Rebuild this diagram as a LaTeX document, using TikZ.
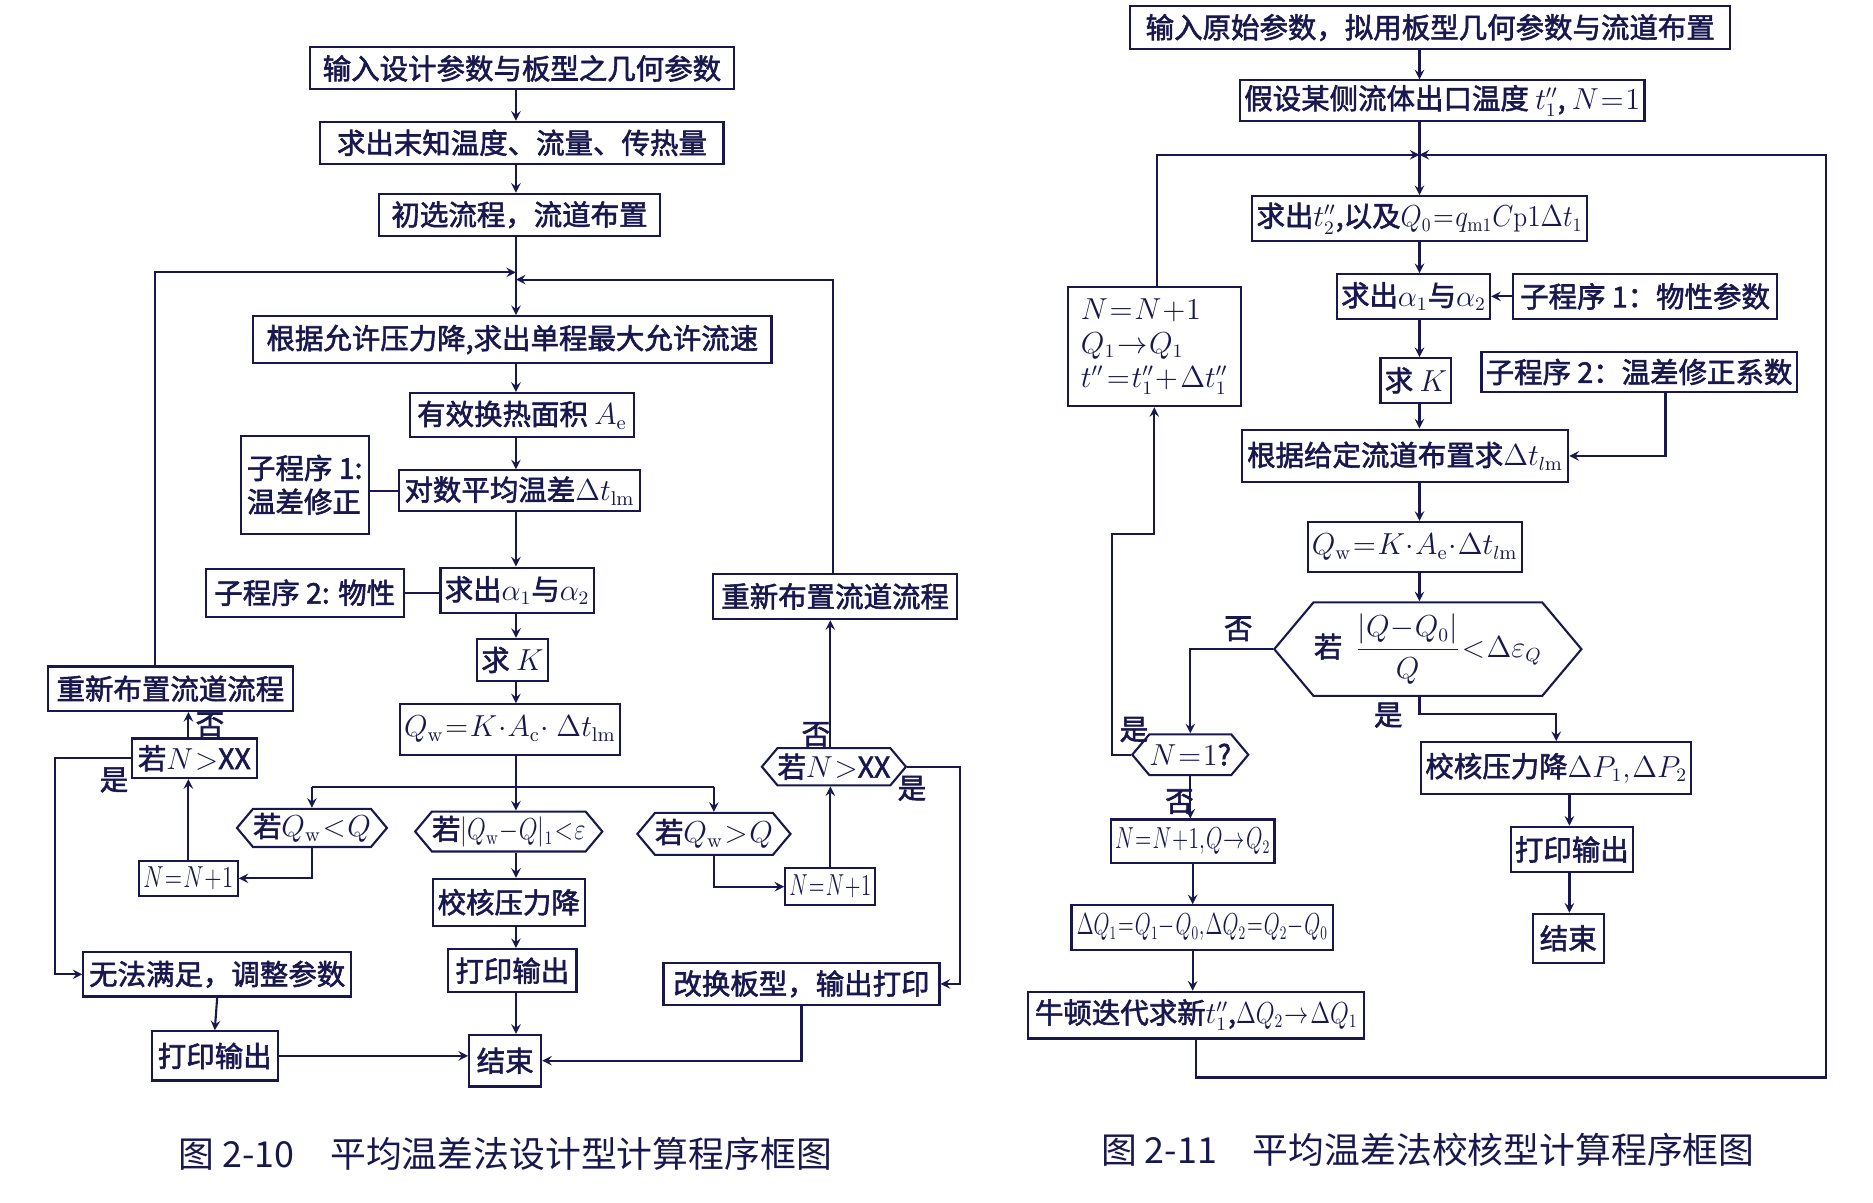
\documentclass[tikz,border=0pt]{standalone}
\usepackage{fontspec}
\usepackage{graphicx}
\usepackage{tikz}
\usetikzlibrary{shapes.symbols, arrows}
\newfontfamily\cjk{Noto Sans CJK SC}
\newfontfamily\cjkb{Noto Sans CJK SC}[FakeBold=2]
\definecolor{ink}{RGB}{24,24,78}
\newcommand\tightmath{\thickmuskip=1mu\medmuskip=0.5mu\thinmuskip=1mu}
\newcommand\squeeze[2]{\scalebox{#1}[1]{#2}}
\tikzstyle{box} = [rectangle, draw=ink, line width=1pt, text=ink, inner sep=2pt, font=\fontsize{13.5}{16}\selectfont\cjkb\tightmath]
\tikzstyle{hexa} = [box, signal, signal to=west and east, signal pointer angle=100, inner xsep=0pt]
\tikzstyle{tag} = [text=ink, inner sep=1pt, font=\fontsize{13.5}{16}\selectfont\cjkb]
\tikzstyle{captext} = [text=ink, font=\fontsize{17}{20}\selectfont\cjk]
\tikzstyle{arrow} = [draw=ink, line width=1pt, ->, >=stealth]
\tikzstyle{wire} = [draw=ink, line width=1pt]
\tikzset{sz/.style 2 args={minimum width=#1*0.02cm, minimum height=#2*0.02cm}}

\begin{document}
\begin{tikzpicture}[x=0.02cm, y=-0.02cm]
\useasboundingbox (0,0) rectangle (1561,1002);

% left chart: design calculation
\coordinate (colL) at (430,0);
\node (inL) [box, sz={354}{35}] at (435,57) {输入设计参数与板型之几何参数};
\node (unk) [box, sz={336}{35}] at (435,119) {求出末知温度、流量、传热量};
\node (lay) [box, sz={234}{35}] at (433,179) {初选流程，流道布置};
\node (vel) [box, sz={432}{39}] at (427,283) {根据允许压力降,求出单程最大允许流速};
\node (area) [box, sz={187}{37}] at (435,346) {有效换热面积 $A_\mathrm{e}$};
\node (sub1) [box, sz={107}{82}, align=left] at (254,404) {子程序 1:\\温差修正};
\node (lmtd) [box, sz={201}{34}] at (433,409) {对数平均温差$\Delta t_\mathrm{lm}$};
\node (sub2) [box, sz={165}{40}] at (254,494) {子程序 2: 物性};
\node (alpha) [box, sz={126}{38}] at (431,492) {求出$\alpha_1$与$\alpha_2$};
\node (kL) [box, sz={59}{35}] at (427,550) {求 $K$};
\node (qwL) [box, sz={177}{42}] at (425,608) {$Q_\mathrm{w}=K\cdot A_\mathrm{c}\cdot\ \Delta t_\mathrm{lm}$};
\node (less) [hexa, sz={115}{29}] at (260,690) {若$Q_\mathrm{w}<Q$};
\node (near) [hexa, sz={156}{32}] at (424,693) {若\squeeze{0.8}{$|Q_\mathrm{w}-Q|_1<\varepsilon$}};
\node (more) [hexa, sz={126}{35}] at (595,695) {若$Q_\mathrm{w}>Q$};
\node (incL) [box, sz={81}{29}] at (157,732) {\squeeze{0.75}{$N=N+1$}};
\node (ifL) [box, sz={104}{33}] at (162,632) {若$N>$XX};
\node (reL) [box, sz={204}{37}] at (142,574) {重新布置流道流程};
\node (fail) [box, sz={223}{37}] at (181,812) {无法满足，调整参数};
\node (prL) [box, sz={105}{41}] at (179,880) {打印输出};
\node (endL) [box, sz={60}{43}] at (421,884) {结束};
\node (chkL) [box, sz={127}{39}] at (424,752) {校核压力降};
\node (prM) [box, sz={107}{36}] at (427,809) {打印输出};
\node (swap) [box, sz={230}{35}] at (668,820) {改换板型，输出打印};
\node (incR) [box, sz={71}{31}] at (692,739) {\squeeze{0.68}{$N=N+1$}};
\node (ifR) [hexa, sz={117}{31}] at (695,639) {若$N>$XX};
\node (reR) [box, sz={203}{38}] at (696,497) {重新布置流道流程};

\draw [arrow] (inL.south -| colL) -- (unk.north -| colL);
\draw [arrow] (unk.south -| colL) -- (lay.north -| colL);
\draw [arrow] (lay.south -| colL) -- (vel.north -| colL);
\coordinate (lpL) at (129,227);
\coordinate (lpR) at (694,233);
\draw [arrow] (reL.north -| lpL) -- (lpL) -- (colL |- lpL);
\draw [arrow] (reR.north -| lpR) -- (lpR) -- (colL |- lpR);
\draw [arrow] (vel.south -| colL) -- (area.north -| colL);
\draw [arrow] (area.south -| colL) -- (lmtd.north -| colL);
\draw [arrow] (lmtd.south -| colL) -- (alpha.north -| colL);
\draw [arrow] (alpha.south -| colL) -- (kL.north -| colL);
\draw [arrow] (kL.south -| colL) -- (qwL.north -| colL);
\draw [wire] (sub1.east |- lmtd) -- (lmtd.west);
\draw [wire] (sub2.east) -- (alpha.west |- sub2);
\draw [arrow] (qwL.south -| colL) -- (near.north -| colL);
\coordinate (brL) at (430,656);
\draw [wire] (less |- brL) -- (more |- brL);
\draw [arrow] (less |- brL) -- (less.north);
\draw [arrow] (more |- brL) -- (more.north);
\draw [arrow] (less.south) |- (incL.east);
\draw [arrow] (incL.north) -- (incL.north |- ifL.south);
\draw [arrow] (ifL.north -| incL) -- (reL.south -| incL) node [tag, midway, right, xshift=2pt] {否};
\coordinate (lpY) at (46,0);
\draw [arrow] (ifL.west) -- (ifL.west -| lpY) |- (fail.west);
\node (yesL) [tag] at (95,650) {是};
\draw [arrow] (fail.south) -- (prL.north);
\draw [arrow] (prL.east) -- (endL.west |- prL);
\draw [arrow] (near.south -| colL) -- (chkL.north -| colL);
\draw [arrow] (chkL.south -| colL) -- (prM.north -| colL);
\draw [arrow] (prM.south -| colL) -- (endL.north -| colL);
\draw [arrow] (more.south) |- (incR.west);
\draw [arrow] (incR.north) -- (incR.north |- ifR.south);
\draw [arrow] (ifR.north -| incR) -- (reR.south -| incR);
\node (noR) [tag] at (680,612) {否};
\coordinate (lpC) at (800,0);
\draw [arrow] (ifR.east) -- (ifR.east -| lpC) |- (swap.east);
\node (yesR) [tag] at (760,657) {是};
\draw [arrow] (swap.south) |- (endL.east);
\node (capL) [captext] at (421,962) {图 2-10　平均温差法设计型计算程序框图};

% right chart: rating calculation
\coordinate (colR) at (1183,0);
\node (inR) [box, sz={500}{36}] at (1192,23) {输入原始参数，拟用板型几何参数与流道布置};
\node (hyp) [box, sz={333}{34}] at (1202,84) {假设某侧流体出口温度 $t_1''$, $N=1$};
\node (q0) [box, sz={266}{37}] at (1183,182) {求出$t_2''$,以及\squeeze{0.9}{$Q_0=q_{\mathrm{m}1}C\mathrm{p}1\Delta t_1$}};
\node (alR) [box, sz={115}{37}] at (1178,247) {求出$\alpha_1$与$\alpha_2$};
\node (sb1) [box, sz={220}{37}] at (1371,247) {子程序 1：物性参数};
\node (kR) [box, sz={53}{37}] at (1180,317) {求 $K$};
\node (sb2) [box, sz={262}{34}] at (1366,310) {子程序 2：温差修正系数};
\node (lmR) [box, sz={272}{44}] at (1171,380) {根据给定流道布置求$\Delta t_{l\mathrm{m}}$};
\node (qwR) [box, sz={148}{42}] at (1179,456) {$Q_\mathrm{w}=K\cdot A_\mathrm{e}\cdot\Delta t_{l\mathrm{m}}$};
\node (test) [hexa, sz={256}{78}] at (1190,541) {若\ \ $\displaystyle\frac{|Q-Q_0|}{Q}<\Delta\varepsilon_Q$};
\node (upd) [box, sz={144}{99}, align=left] at (962,289) {$N=N+1$\\$Q_1\to Q_1$\\$t''\;=t_1''+\;\Delta t_1''$};
\node (one) [hexa, sz={78}{34}] at (992,629) {$N=1$?};
\node (nq2) [box, sz={135}{36}] at (994,701) {\squeeze{0.7}{$N=N+1,Q\to Q_2$}};
\node (dq) [box, sz={218}{37}] at (1002,773) {\squeeze{0.68}{$\Delta Q_1=Q_1-Q_0,\Delta Q_2=Q_2-Q_0$}};
\node (newt) [box, sz={280}{39}] at (997,846) {牛顿迭代求新$t_1''$,\squeeze{0.8}{$\Delta Q_2\to\Delta Q_1$}};
\node (chkR) [box, sz={209}{43}] at (1297,640) {校核压力降$\Delta P_1,\Delta P_2$};
\node (prR) [box, sz={101}{38}] at (1310,708) {打印输出};
\node (endR) [box, sz={59}{41}] at (1307,782) {结束};

\draw [arrow] (inR.south -| colR) -- (hyp.north -| colR);
\draw [arrow] (hyp.south -| colR) -- (q0.north -| colR);
\coordinate (lpA) at (964,129);
\coordinate (lpB) at (1522,129);
\coordinate (lpBb) at (1522,898);
\draw [arrow] (upd.north -| lpA) -- (lpA) -- (colR |- lpA);
\draw [arrow] (newt.south) |- (lpBb) -- (lpB) -- (colR |- lpB);
\draw [arrow] (q0.south -| colR) -- (alR.north -| colR);
\draw [arrow] (sb1.west) -- (alR.east |- sb1);
\draw [arrow] (alR.south -| colR) -- (kR.north -| colR);
\draw [arrow] (kR.south -| colR) -- (lmR.north -| colR);
\coordinate (s2x) at (1388,0);
\draw [arrow] (sb2.south -| s2x) |- (lmR.east);
\draw [arrow] (lmR.south -| colR) -- (qwR.north -| colR);
\draw [arrow] (qwR.south -| colR) -- (test.north -| colR);
\draw [arrow] (test.west) -| (one.north);
\node (noT) [tag] at (1032,524) {否};
\coordinate (ys) at (0,595);
\draw [arrow] (test.south -| colR) -- (colR |- ys) -| (chkR.north);
\node (yesT) [tag] at (1157,596) {是};
\coordinate (colC) at (1308,0);
\draw [arrow] (chkR.south -| colC) -- (prR.north -| colC);
\draw [arrow] (prR.south -| colC) -- (endR.north -| colC);
\coordinate (lpD) at (927,445);
\draw [arrow] (one.west) -| (lpD) -| (upd.south);
\node (yesO) [tag] at (945,608) {是};
\draw [arrow] (one.south) -- (nq2.north -| one);
\node (noO) [tag] at (983,668) {否};
\draw [arrow] (nq2.south) -- (dq.north -| nq2);
\draw [arrow] (dq.south -| nq2) -- (newt.north -| nq2);
\node (capR) [captext] at (1190,958) {图 2-11　平均温差法校核型计算程序框图};
\end{tikzpicture}
\end{document}
